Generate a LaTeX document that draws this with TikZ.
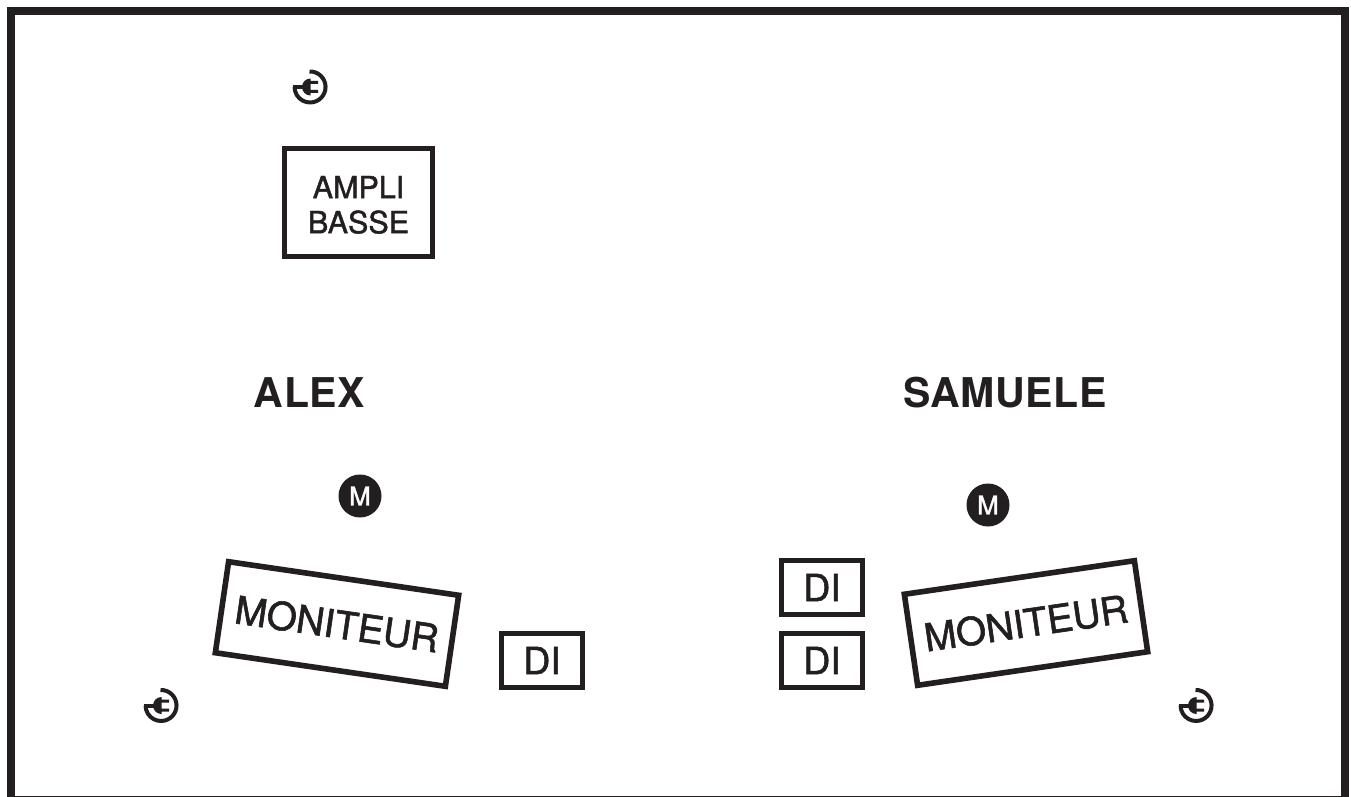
\documentclass[tikz,border=0pt]{standalone}
\usepackage{fontspec}
\setmainfont[FakeBold=1.5]{TeX Gyre Heros}
\newfontfamily\heavyfont[BoldFont={TeX Gyre Heros Bold},LetterSpace=1.4]{TeX Gyre Heros}
\definecolor{ink}{HTML}{231F20}
\tikzset{
  x=1pt,y=-1pt,
  boxed/.style={draw=ink,line width=5.6pt,inner sep=0pt,align=center,text=ink,font=\fontsize{30.5}{35}\selectfont,minimum width=148pt,minimum height=108pt},
  dibox/.style={boxed,minimum width=81pt,minimum height=54pt,font=\fontsize{37.5}{40}\selectfont},
  monitor/.style={boxed,minimum width=232.5pt,minimum height=92pt,font=\fontsize{38.5}{40}\selectfont},
  person/.style={text=ink,inner sep=0pt,font=\heavyfont\fontsize{41}{45}\selectfont\bfseries},
  mic/.style={circle,fill=ink,text=white,inner sep=0pt,minimum size=43pt,font=\fontsize{26}{26}\selectfont},
  plug/.pic={
    \draw[ink,line width=4pt] (-0.5,-15.5) arc[start angle=92,end angle=-180,radius=15.5pt];
    \fill[ink] (0.5,-8.5) arc[start angle=90,end angle=270,radius=8.5pt] -- (0.5,6) -- (8,6) -- (8,3) -- (0.5,3) -- (0.5,-3) -- (8,-3) -- (8,-6) -- (0.5,-6) -- cycle;
    \draw[ink,line width=4pt] (-17.5,0) -- (-7,0);
  }
}
\begin{document}
\begin{tikzpicture}
\useasboundingbox (0,0) rectangle (1351,797);
\fill[white] (0,0) rectangle (1351,797);
\draw[ink,line width=8.5pt] (11,800) -- (11,11) -- (1345,11) -- (1345,800);
\draw[ink,line width=2pt] (7,796.5) -- (1349,796.5);
\pic at (310,87) {plug};
\pic at (161,705.5) {plug};
\pic at (1196,705.5) {plug};
\node[boxed] (ampli) at (358.5,202.5) {\rule{0pt}{27pt}AMPLI\\BASSE};
\node[person] (alex) at (309.5,393) {ALEX};
\node[person] (samuele) at (1005,393) {SAMUELE};
\node[mic] (micA) at (360,496) {M};
\node[mic] (micB) at (988,505) {M};
\node[monitor,rotate=-8.3] (monA) at (337,624) {MONITEUR};
\node[monitor,rotate=8.3] (monB) at (1026,623) {MONITEUR};
\node[dibox] (diA) at (542,660.5) {DI};
\node[dibox] (diB) at (822,587.5) {DI};
\node[dibox] (diC) at (822,660.5) {DI};
\end{tikzpicture}
\end{document}
